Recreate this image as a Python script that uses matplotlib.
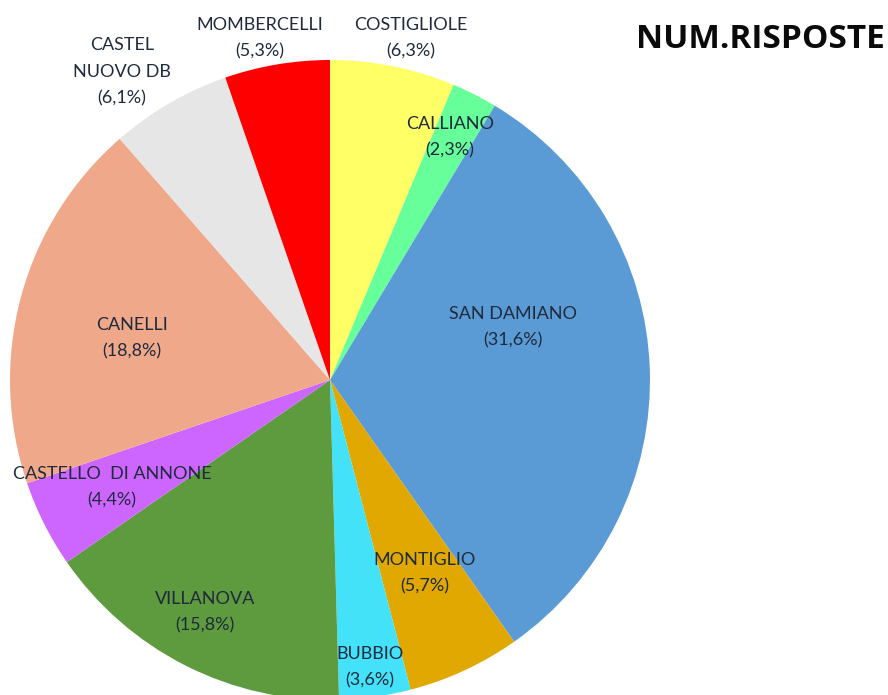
import matplotlib
matplotlib.use("Agg")
import matplotlib.pyplot as plt

# data, clockwise from 12 o'clock
comuni = ["COSTIGLIOLE", "CALLIANO", "SAN DAMIANO", "MONTIGLIO", "BUBBIO",
          "VILLANOVA", "CASTELLO  DI ANNONE", "CANELLI", "CASTEL\nNUOVO DB",
          "MOMBERCELLI"]
percentuali = [6.3, 2.3, 31.6, 5.7, 3.6, 15.8, 4.4, 18.8, 6.1, 5.3]

colori = ["#FFFF66", "#66FF99", "#5B9BD5", "#E0A800", "#44E2F8",
          "#5E9A3E", "#CC66FF", "#F0A88A", "#E6E6E6", "#FF0000"]

# label offsets from the pie centre, in units of the radius
label_pos = [(0.253, 1.069), (0.375, 0.759), (0.572, 0.166), (0.297, -0.603),
             (0.125, -0.897), (-0.391, -0.725), (-0.681, -0.334),
             (-0.619, 0.131), (-0.65, 0.9625), (-0.219, 1.069)]

W, H = 888, 695
cx, cy, R = 330, H - 380, 320

fig = plt.figure(figsize=(W / 100, H / 100), dpi=100)
ax = fig.add_axes([0, 0, 1, 1])
ax.pie(percentuali, colors=colori, startangle=90, counterclock=False,
       center=(cx, cy), radius=R, frame=True,
       wedgeprops=dict(linewidth=0))
ax.set_xlim(0, W)
ax.set_ylim(0, H)
ax.set_aspect("equal")
ax.axis("off")

for nome, p, (dx, dy) in zip(comuni, percentuali, label_pos):
    txt = "%s\n(%s%%)" % (nome, str(p).replace(".", ","))
    ax.text(cx + dx * R, cy + dy * R, txt, ha="center", va="center",
            fontsize=13, family="Lato", color="#1F2A3C", linespacing=1.8)

ax.text(760, H - 40, "NUM.RISPOSTE", ha="center", va="center",
        fontsize=24, family="Open Sans", fontweight="bold", color="#0A0A0A")

fig.savefig("out.png", dpi=100)
